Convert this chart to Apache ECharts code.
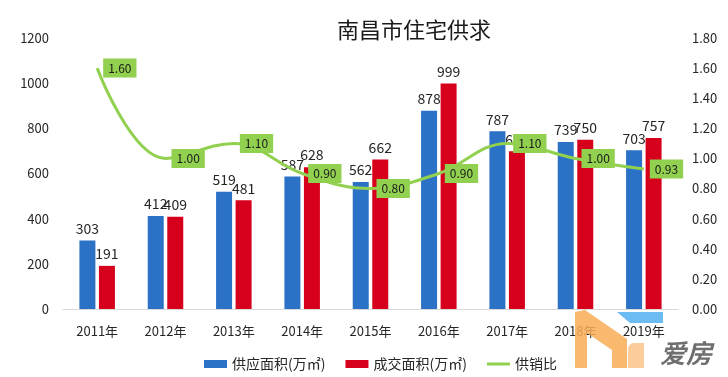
<!DOCTYPE html>
<html>
<head>
<meta charset="utf-8">
<script src="https://cdn.jsdelivr.net/npm/echarts@6/dist/echarts.min.js"></script>
<style>
html, body { margin: 0; padding: 0; background: #fff; }
#main { width: 728px; height: 377px; }
</style>
</head>
<body>
<div id="main"></div>
<script>
// data
var years = ['2011年', '2012年', '2013年', '2014年', '2015年', '2016年', '2017年', '2018年', '2019年'];
var supply = [303, 412, 519, 587, 562, 878, 787, 739, 703];
var deal = [191, 409, 481, 628, 662, 999, 698, 750, 757];
var ratio = [1.60, 1.00, 1.10, 0.90, 0.80, 0.90, 1.10, 1.00, 0.93];

var font = '"Noto Sans CJK SC", "Open Sans", sans-serif';
var textColor = '#262626';

var myChart = echarts.init(document.getElementById('main'));
var option = {
    backgroundColor: '#fff',
    animation: false,
    textStyle: { fontFamily: font },
    title: {
        text: '南昌市住宅供求',
        left: 409,
        top: 14,
        textAlign: 'center',
        textStyle: { fontSize: 22, fontWeight: 'normal', color: '#1a1a1a', fontFamily: font }
    },
    grid: {
        left: 63,
        right: 50,
        top: 38,
        bottom: 68
    },
    legend: {
        top: 352,
        left: 199,
        itemWidth: 23,
        itemHeight: 8,
        itemGap: 20,
        textStyle: { fontSize: 14, color: textColor, fontFamily: font },
        data: [
            { name: '供应面积(万㎡)', icon: 'rect' },
            { name: '成交面积(万㎡)', icon: 'rect' },
            { name: '供销比', icon: 'path://M0,0L23,0L23,3L0,3Z' }
        ]
    },
    xAxis: {
        type: 'category',
        data: years,
        axisTick: { show: false },
        axisLine: { lineStyle: { color: '#d9d9d9', width: 1 } },
        axisLabel: { color: textColor, fontSize: 13, margin: 16 }
    },
    yAxis: [{
        type: 'value',
        min: 0,
        max: 1200,
        interval: 200,
        splitLine: { show: false },
        axisLine: { show: false },
        axisTick: { show: false },
        axisLabel: {
            color: textColor,
            fontSize: 13,
            margin: 14,
            formatter: function (v) { return String(v); }
        }
    }, {
        type: 'value',
        min: 0,
        max: 1.8,
        interval: 0.2,
        splitLine: { show: false },
        axisLine: { show: false },
        axisTick: { show: false },
        axisLabel: {
            color: textColor,
            fontSize: 13,
            margin: 14,
            formatter: function (v) { return v.toFixed(2); }
        }
    }],
    series: [{
        name: '供应面积(万㎡)',
        type: 'bar',
        data: supply,
        barWidth: 16,
        barGap: '22%',
        itemStyle: { color: '#2b72c6' },
        label: { show: true, position: 'top', color: textColor, fontSize: 14, distance: 5 }
    }, {
        name: '成交面积(万㎡)',
        type: 'bar',
        data: deal,
        barWidth: 16,
        itemStyle: { color: '#d6001c' },
        label: { show: true, position: 'top', color: textColor, fontSize: 14, distance: 5 }
    }, {
        name: '供销比',
        type: 'line',
        yAxisIndex: 1,
        data: ratio,
        smooth: 0.4,
        symbol: 'none',
        lineStyle: { color: '#92d050', width: 3 },
        itemStyle: { color: '#92d050' },
        z: 5
    }, {
        // labels of the ratio line
        name: '供销比标签',
        type: 'scatter',
        yAxisIndex: 1,
        data: ratio,
        symbolSize: 0,
        silent: true,
        itemStyle: { opacity: 1, color: '#92d050' },
        label: {
            show: true,
            position: 'right',
            distance: 6,
            backgroundColor: '#92d050',
            padding: [4, 5, 3, 5],
            color: '#1a1a1a',
            fontSize: 12,
            opacity: 1,
            formatter: function (p) { return p.value.toFixed(2); }
        },
        z: 6
    }],
    graphic: [{
        // watermark logo
        type: 'polygon',
        shape: { points: [[575, 312], [585, 310], [627, 339], [627, 368], [612, 368], [612, 350], [587, 333], [587, 368], [575, 368]] },
        style: { fill: '#f8ad55', opacity: 0.85 },
        z: 100
    }, {
        type: 'rect',
        shape: { x: 628, y: 343, width: 16, height: 25, r: [6, 0, 0, 0] },
        style: { fill: '#fbc58a', opacity: 0.85 },
        z: 100
    }, {
        type: 'polygon',
        shape: { points: [[617, 312], [663, 312], [663, 323], [630, 323]] },
        style: { fill: '#5db4f2', opacity: 0.9 },
        z: 100
    }, {
        type: 'text',
        left: 660,
        top: 340,
        style: {
            text: '爱房',
            fill: '#6f6f6f',
            font: 'italic bold 26px "Noto Sans CJK SC", sans-serif'
        },
        z: 100
    }]
};
myChart.setOption(option);

window.addEventListener('resize', function () {
    myChart.resize();
});
</script>
</body>
</html>
